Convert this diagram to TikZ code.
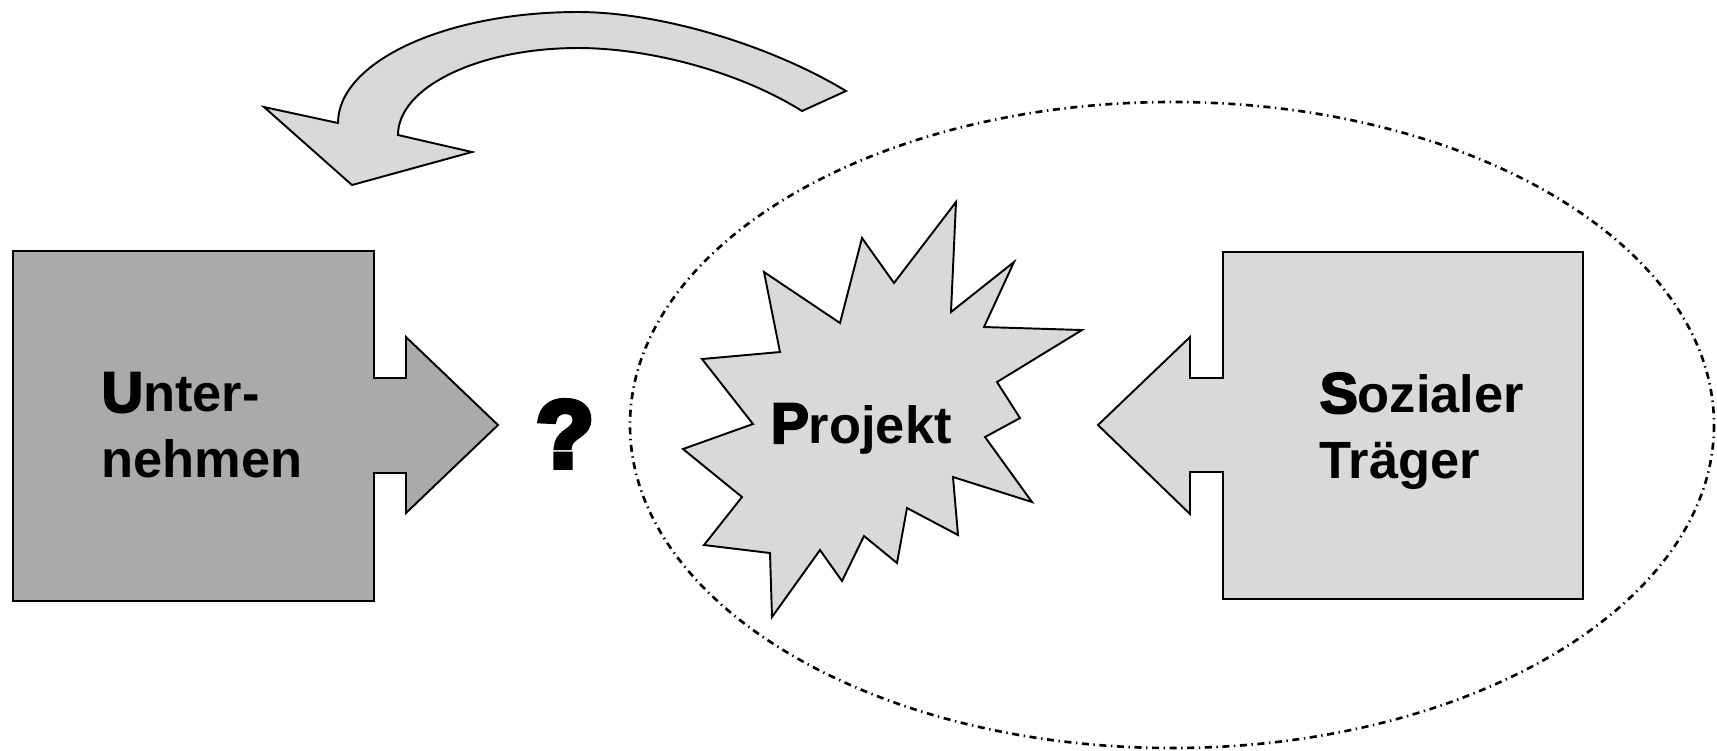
\documentclass[tikz,border=0pt]{standalone}
\usepackage{fontspec}
\setmainfont{Liberation Sans}
\newfontfamily\heavyfont{Liberation Sans}[BoldFeatures={FakeBold=3.5}]
\newfontfamily\qmarkfont{Liberation Sans}[BoldFeatures={FakeBold=6}]
\usepackage{tikz}
\definecolor{darkfill}{HTML}{AAAAAA}
\definecolor{lightfill}{HTML}{D9D9D9}
\newcommand{\initial}[1]{{\heavyfont\bfseries\fontsize{16.3}{18.5}\selectfont #1}}
\tikzset{
  outline/.style={draw=black, line width=0.55pt},
  darkbox/.style={outline, fill=darkfill},
  lightbox/.style={outline, fill=lightfill},
  scopeline/.style={draw=black, line width=0.75pt, dash pattern=on 2pt off 1.3pt on 0.4pt off 1.3pt}, % dash-dot
  boxlabel/.style={font=\fontsize{14.9}{18.5}\selectfont\bfseries, align=left, inner sep=0pt},
}

\begin{document}
\begin{tikzpicture}[x=0.01cm, y=-0.01cm]
  \useasboundingbox (0,0) rectangle (1717,750);

  \draw[scopeline] (1172,425) ellipse [x radius=542, y radius=323];

  % curved arrow back to the company
  \draw[lightbox] (846,91) .. controls (770,45) and (660,12) .. (578,12)
    .. controls (445,12) and (338,62) .. (338,123)
    -- (264,107) -- (352,185) -- (472,152) -- (398,135)
    .. controls (398,87) and (479,48) .. (578,48)
    .. controls (650,48) and (740,72) .. (802,111) -- cycle;

  \draw[darkbox] (13,251) -- (374,251) -- (374,378) -- (406,378) -- (406,337) -- (498,425)
    -- (406,513) -- (406,473) -- (374,473) -- (374,601) -- (13,601) -- cycle;
  \draw[lightbox] (1583,252) -- (1223,252) -- (1223,378) -- (1190,378) -- (1190,337) -- (1098,425)
    -- (1190,514) -- (1190,472) -- (1223,472) -- (1223,599) -- (1583,599) -- cycle;

  \draw[lightbox] (956,202) -- (951,312) -- (1014,262) -- (984,327) -- (1082,330) -- (997,382)
    -- (1020,418) -- (985,437) -- (1032,502) -- (953,477) -- (958,535) -- (907,508)
    -- (897,563) -- (864,536) -- (842,581) -- (820,550) -- (772,617) -- (770,553)
    -- (704,545) -- (742,497) -- (683,449) -- (753,424) -- (702,359) -- (780,352)
    -- (764,272) -- (840,323) -- (862,238) -- (894,283) -- cycle;

  \node[boxlabel, anchor=west] (unternehmen) at (101,425) {\initial{U}nter-\\nehmen};
  \node[boxlabel, anchor=west] (traeger) at (1319,431) {\initial{S}ozialer\\Träger};
  \node[boxlabel, anchor=base west] (projekt) at (770,443) {\initial{P}rojekt};
  \node[inner sep=0pt, anchor=base, font=\qmarkfont\bfseries\fontsize{27}{30}\selectfont] (frage) at (565,467) {?};
\end{tikzpicture}
\end{document}
